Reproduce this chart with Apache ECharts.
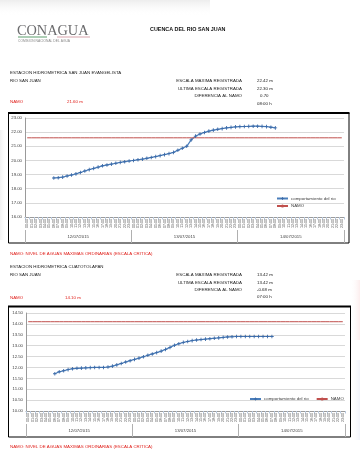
<!DOCTYPE html>
<html><head><meta charset="utf-8">
<script src="https://cdn.jsdelivr.net/npm/echarts@6/dist/echarts.min.js"></script>
<style>html,body{margin:0;padding:0;background:#fff}#c{width:360px;height:470px}</style>
</head><body><div id="c"></div>
<script>
// ---- data ----
const dates = ['12/07/2015', '13/07/2015', '14/07/2015'];
const hourLabels = ['00:00','01:00','02:00','03:00','04:00','05:00','06:00','07:00','08:00','09:00','10:00','11:00',
  '12:00','13:00','14:00','15:00','16:00','17:00','18:00','19:00','20:00','21:00','22:00','23:00'];

// Station 1: San Juan Evangelista (first reading 12/07 06:00)
const rio1Start = 6;
const rio1Values = [18.76,18.78,18.82,18.90,18.97,19.05,19.15,19.25,19.35,19.44,19.53,19.62,19.68,19.74,19.80,19.86,
  19.91,19.96,20.00,20.05,20.09,20.15,20.21,20.27,20.34,20.41,20.48,20.57,20.72,20.86,21.00,21.45,21.72,21.87,21.98,
  22.07,22.14,22.20,22.25,22.30,22.34,22.37,22.39,22.40,22.41,22.42,22.42,22.41,22.39,22.35,22.30];
const namo1 = 21.60;
const yTicks1 = {min: 16, max: 23, step: 1};

// Station 2: Cuatotolapan (first reading 12/07 06:00)
const rio2Start = 6;
const rio2Values = [11.71,11.80,11.85,11.90,11.94,11.96,11.97,11.98,11.99,12.00,12.00,12.00,12.02,12.06,12.12,12.18,
  12.25,12.31,12.37,12.43,12.49,12.56,12.62,12.68,12.75,12.83,12.92,13.02,13.09,13.15,13.19,13.23,13.26,13.28,13.30,
  13.32,13.34,13.36,13.38,13.40,13.41,13.42,13.42,13.42,13.42,13.42,13.42,13.42,13.42,13.42];
const namo2 = 14.10;
const yTicks2 = {min: 10, max: 14.5, step: 0.5};

const legendNames = ['comportamiento del rio', 'NAMO'];

// ---- build ----
const categories = [];
dates.forEach(d => hourLabels.forEach(h => categories.push(d + ' ' + h)));
function pad(start, vals) { return categories.map((c, i) => (i >= start && i < start + vals.length) ? vals[i - start] : null); }
function constLine(v) { return categories.map(() => v); }

const FONT = "'Liberation Sans Narrow','Liberation Sans',Arial,sans-serif";
const BLUE = '#4A7EBB', RED = '#C0504D';
const plus = 'path://M3,0H5V3H8V5H5V8H3V5H0V3H3Z';

function txt(x, y, text, opts) {
  opts = opts || {};
  return { type: 'text', x: x, y: y, silent: true, style: {
    text: text, fontSize: opts.size || 4.6, fontFamily: opts.family || FONT, fontWeight: opts.weight || 'normal',
    fill: opts.color || '#1a1a1a', align: opts.align || 'left', verticalAlign: 'middle' } };
}
function shade(x, y, w, h, c, dir) {
  const g = dir === 'v'
    ? {type: 'linear', x: 0, y: 0, x2: 0, y2: 1, colorStops: [{offset: 0, color: c}, {offset: 1, color: 'rgba(255,255,255,0)'}]}
    : {type: 'linear', x: 0, y: 0, x2: 1, y2: 0, colorStops: [{offset: 0, color: 'rgba(255,255,255,0)'}, {offset: 1, color: c}]};
  return { type: 'rect', silent: true, z: -10, shape: {x: x, y: y, width: w, height: h}, style: {fill: g} };
}

const graphic = [
  // faint scan shading
  shade(0, 0, 210, 16, 'rgba(0,0,0,0.07)', 'v'),
  { type: 'rect', silent: true, z: -10, shape: {x: 0, y: 130, width: 8, height: 110},
    style: {fill: {type: 'linear', x: 0, y: 0, x2: 1, y2: 0, colorStops: [{offset: 0, color: 'rgba(0,0,0,0.06)'}, {offset: 1, color: 'rgba(255,255,255,0)'}]}} },
  shade(350, 280, 10, 60, 'rgba(220,80,80,0.10)', 'h'),
  shade(350, 360, 10, 80, 'rgba(80,110,200,0.08)', 'h'),
  // logo
  txt(17, 31, 'CONAGUA', {size: 14.3, family: "'Liberation Serif','DejaVu Serif',serif", color: '#6b6b6d'}),
  { type: 'rect', shape: {x: 18, y: 36.5, width: 29, height: 1}, style: {fill: '#5b9c6a'} },
  { type: 'rect', shape: {x: 57, y: 36.5, width: 33, height: 1}, style: {fill: '#d7a3ab'} },
  txt(18, 41.5, 'COMISION NACIONAL DEL AGUA', {size: 3.3, color: '#888'}),
  txt(150, 29.5, 'CUENCA DEL RIO SAN JUAN', {size: 5.4, weight: 'bold', color: '#111'}),
  // station 1 header
  txt(10, 73, 'ESTACION HIDROMETRICA SAN JUAN EVANGELISTA', {size: 4.4}),
  txt(10, 81, 'RIO SAN JUAN', {size: 4.4}),
  txt(242, 81, 'ESCALA MAXIMA REGISTRADA', {align: 'right', size: 4.4}),
  txt(257, 81, '22.42 m', {size: 4.4}),
  txt(242, 88.3, 'ULTIMA ESCALA REGISTRADA', {align: 'right', size: 4.4}),
  txt(257, 88.3, '22.30 m', {size: 4.4}),
  txt(242, 95.7, 'DIFERENCIA AL NAMO', {align: 'right', size: 4.4}),
  txt(260, 95.7, '0.70', {size: 4.4}),
  txt(257, 103.3, '08:00 h', {size: 4.4}),
  txt(10, 101.5, 'NAMO', {color: '#e0201b', size: 4.4}),
  txt(67, 101.5, '21.60 m', {color: '#e0201b', size: 4.4}),
  // chart 1 box
  { type: 'rect', shape: {x: 8.5, y: 113, width: 340.5, height: 130}, style: {fill: 'none', stroke: '#000', lineWidth: 1} },
  { type: 'line', shape: {x1: 8, y1: 113, x2: 349.5, y2: 113}, style: {stroke: '#000', lineWidth: 2} },
  txt(10, 254, 'NAMO: NIVEL DE AGUAS MÁXIMAS ORDINARIAS (ESCALA CRÍTICA)', {color: '#e0201b', size: 4.4}),
  // station 2 header
  txt(10, 267, 'ESTACION HIDROMETRICA CUATOTOLAPAN', {size: 4.4}),
  txt(10, 275, 'RIO SAN JUAN', {size: 4.4}),
  txt(242, 275, 'ESCALA MAXIMA REGISTRADA', {align: 'right', size: 4.4}),
  txt(257, 275, '13.42 m', {size: 4.4}),
  txt(242, 282.5, 'ULTIMA ESCALA REGISTRADA', {align: 'right', size: 4.4}),
  txt(257, 282.5, '13.42 m', {size: 4.4}),
  txt(242, 289.5, 'DIFERENCIA AL NAMO', {align: 'right', size: 4.4}),
  txt(257, 289.5, '-0.68 m', {size: 4.4}),
  txt(257, 297, '07:00 h', {size: 4.4}),
  txt(10, 297.5, 'NAMO', {color: '#e0201b', size: 4.4}),
  txt(65, 297.5, '14.10 m', {color: '#e0201b', size: 4.4}),
  // chart 2 box
  { type: 'rect', shape: {x: 8.5, y: 306.5, width: 342, height: 130.5}, style: {fill: 'none', stroke: '#000', lineWidth: 1} },
  { type: 'line', shape: {x1: 8, y1: 306.5, x2: 351, y2: 306.5}, style: {stroke: '#000', lineWidth: 2} },
  txt(10, 446.5, 'NAMO: NIVEL DE AGUAS MÁXIMAS ORDINARIAS (ESCALA CRÍTICA)', {color: '#e0201b', size: 4.4})
];

function yAxis(gi, t) {
  return { type: 'value', gridIndex: gi, min: t.min, max: t.max, interval: t.step,
    axisLine: {show: true, lineStyle: {color: '#9a9a9a', width: 1}}, axisTick: {show: false},
    axisLabel: {fontSize: 4.3, color: '#404040', fontFamily: FONT, margin: 3, formatter: v => v.toFixed(2)},
    splitLine: {lineStyle: {color: '#d9d9d9', width: 1}} };
}
function hourAxis(gi) {
  return { type: 'category', gridIndex: gi, data: categories, boundaryGap: true,
    axisLine: {lineStyle: {color: '#9a9a9a'}},
    axisTick: {show: true, interval: 0, length: 2.5, lineStyle: {color: '#b9c9de'}},
    axisLabel: {interval: 0, rotate: 90, fontSize: 3.6, color: '#505050', fontFamily: FONT, margin: 2,
      formatter: v => v.split(' ')[1]} };
}
function dateAxis(gi) {
  return { type: 'category', gridIndex: gi, data: dates, position: 'bottom', offset: 26, boundaryGap: true,
    axisLine: {show: false},
    axisTick: {show: true, inside: true, length: 13, lineStyle: {color: '#b0b0b0'}},
    axisLabel: {inside: true, margin: 4.5, fontSize: 4.3, color: '#404040', fontFamily: FONT} };
}
function rioSeries(xi, yi, start, vals) {
  return { name: legendNames[0], type: 'line', xAxisIndex: xi, yAxisIndex: yi, data: pad(start, vals),
    symbol: plus, symbolSize: 3.6, showSymbol: true, connectNulls: false,
    lineStyle: {color: BLUE, width: 1.2}, itemStyle: {color: '#3b6aa8'}, animation: false };
}
function namoSeries(xi, yi, v) {
  return { name: legendNames[1], type: 'line', xAxisIndex: xi, yAxisIndex: yi, data: constLine(v),
    symbol: 'none', lineStyle: {color: RED, width: 1}, itemStyle: {color: RED}, animation: false };
}

const option = {
  backgroundColor: '#fff',
  animation: false,
  textStyle: {fontFamily: FONT},
  graphic: graphic,
  grid: [
    {left: 25, right: 16, top: 118, bottom: 253, containLabel: false},
    {left: 26, right: 15, top: 313, bottom: 59, containLabel: false}
  ],
  xAxis: [hourAxis(0), dateAxis(0), hourAxis(1), dateAxis(1)],
  yAxis: [yAxis(0, yTicks1), yAxis(1, yTicks2)],
  legend: [
    {data: legendNames, orient: 'vertical', left: 276, top: 196.5, itemGap: 3.5, itemWidth: 11, itemHeight: 4,
      textStyle: {fontSize: 4.4, color: '#404040', fontFamily: FONT, padding: [0,0,0,-2]}, padding: 0},
    {data: legendNames, orient: 'horizontal', left: 249, top: 397, itemGap: 7, itemWidth: 11, itemHeight: 4,
      textStyle: {fontSize: 4.4, color: '#404040', fontFamily: FONT, padding: [0,0,0,-2]}, padding: 0}
  ],
  series: [
    rioSeries(0, 0, rio1Start, rio1Values), namoSeries(0, 0, namo1),
    rioSeries(2, 1, rio2Start, rio2Values), namoSeries(2, 1, namo2)
  ]
};
const chart = echarts.init(document.getElementById('c'), null, {renderer: 'canvas'});
chart.setOption(option);
</script></body></html>
